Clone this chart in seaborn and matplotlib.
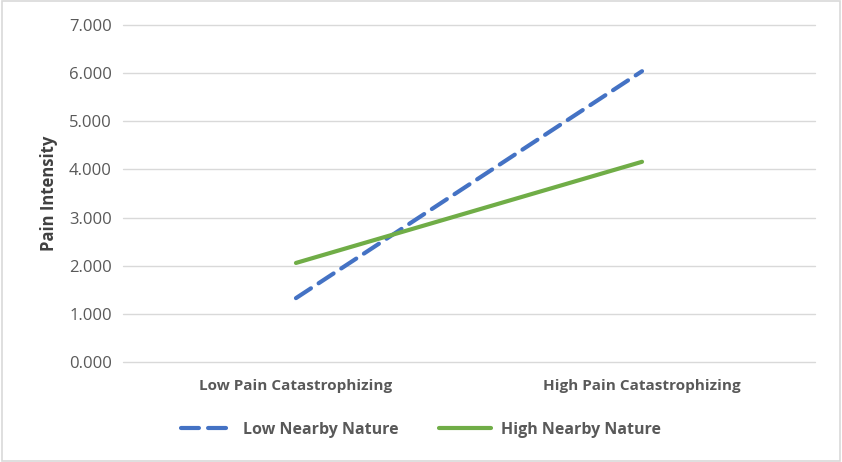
import numpy as np
import pandas as pd
import seaborn as sns
import matplotlib.pyplot as plt

categories = ['Low Pain Catastrophizing', 'High Pain Catastrophizing']
low_nature = [1.33, 6.04]
high_nature = [2.06, 4.16]
series_names = ['Low Nearby Nature', 'High Nearby Nature']
y_ticks = [0, 1, 2, 3, 4, 5, 6, 7]

df = pd.DataFrame({
    'cat': categories * 2,
    'val': low_nature + high_nature,
    'series': [series_names[0]] * 2 + [series_names[1]] * 2,
})

sns.set_theme(style='white')
plt.rcParams['font.family'] = ['Open Sans', 'DejaVu Sans']

fig, ax = plt.subplots(figsize=(8.42, 4.62), dpi=100)
fig.subplots_adjust(left=0.146, right=0.968, top=0.946, bottom=0.216)

palette = {series_names[0]: '#4472C4', series_names[1]: '#70AD47'}
sns.lineplot(data=df, x='cat', y='val', hue='series', palette=palette,
             linewidth=3, ax=ax, legend=False, sort=False)

# dashed style for the low series
ax.lines[0].set_dashes([4.3, 2.2])
ax.lines[0].set_dash_capstyle('round')
for ln in ax.lines:
    ln.set_solid_capstyle('round')

ax.set_xlim(-0.5, 1.5)
ax.set_ylim(0, 7)
ax.set_yticks(y_ticks)
ax.set_yticklabels(['{:.3f}'.format(v) for v in y_ticks])
ax.yaxis.grid(True, color='#d9d9d9', linewidth=1)
for gl in ax.get_ygridlines():
    gl.set_clip_on(False)
ax.set_axisbelow(True)
for s in ax.spines.values():
    s.set_visible(False)
ax.tick_params(axis='both', length=0, labelsize=12, colors='#595959', pad=8)
ax.tick_params(axis='x', labelsize=11, pad=12)
for t in ax.get_xticklabels():
    t.set_fontweight('bold')
ax.set_xlabel('')
ax.set_ylabel('Pain Intensity', fontsize=12, fontweight='bold', color='#404040', labelpad=8)

handles = [
    plt.Line2D([], [], color='#4472C4', linewidth=3, dashes=[4.3, 2.2], dash_capstyle='round'),
    plt.Line2D([], [], color='#70AD47', linewidth=3, solid_capstyle='round'),
]
leg = fig.legend(handles, series_names, loc='center', bbox_to_anchor=(0.5, 0.07), ncol=2,
                 frameon=False, handlelength=3.3, handletextpad=0.6, columnspacing=2.5,
                 prop={'size': 11.5, 'weight': 'bold'})
for t in leg.get_texts():
    t.set_color('#595959')

fig.patches.append(plt.Rectangle((0.002, 0.002), 0.996, 0.995, transform=fig.transFigure,
                                 fill=False, edgecolor='#d9d9d9', linewidth=1.2))

fig.savefig('out.png', dpi=100)
